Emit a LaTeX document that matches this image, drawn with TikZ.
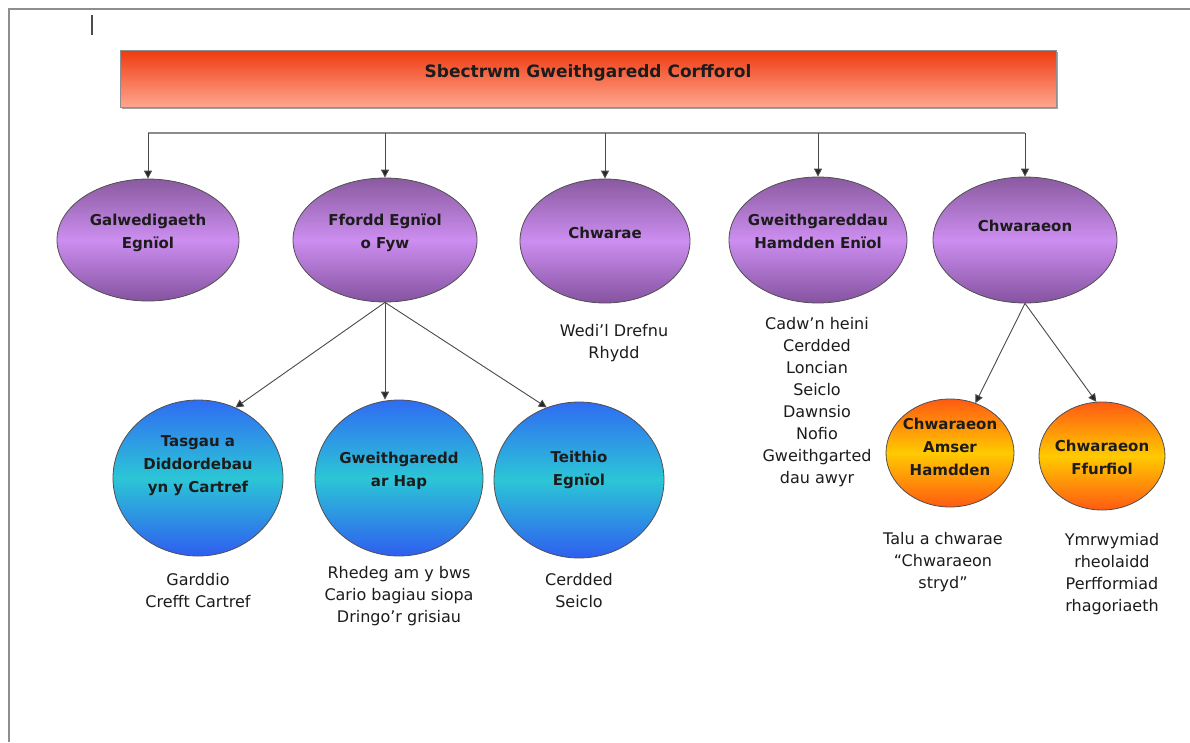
\documentclass[tikz,border=0pt]{standalone}
\usepackage{fontspec}
\setmainfont{DejaVu Sans}
\usetikzlibrary{shapes.geometric,arrows.meta,shadows}
\definecolor{purpTop}{HTML}{8A5AA0}
\definecolor{purpMid}{HTML}{CC8EF0}
\definecolor{purpBot}{HTML}{8552A0}
\definecolor{blueTop}{HTML}{2F6CF2}
\definecolor{blueMid}{HTML}{2CC6D6}
\definecolor{blueBot}{HTML}{2E5EF0}
\definecolor{orgTop}{HTML}{FF5A12}
\definecolor{orgMid}{HTML}{FFCA00}
\definecolor{orgBot}{HTML}{FF5A12}
\definecolor{barTop}{HTML}{EE3A10}
\definecolor{barBot}{HTML}{FFA68E}
\definecolor{edgec}{HTML}{505050}
\definecolor{linec}{HTML}{4A4A4A}
\definecolor{busc}{HTML}{8C8C8C}
\definecolor{framec}{HTML}{8E8E8E}
\definecolor{txt}{HTML}{1C1C1C}
\begin{document}
\begin{tikzpicture}[x=1pt,y=-1pt,
  purple/.style={ellipse, draw=edgec, line width=0.8pt, inner sep=0pt,
    top color=purpTop, bottom color=purpBot, middle color=purpMid},
  bluec/.style={ellipse, draw=edgec, line width=0.8pt, inner sep=0pt,
    top color=blueTop, bottom color=blueBot, middle color=blueMid},
  orangec/.style={ellipse, draw=edgec, line width=0.8pt, inner sep=0pt,
    top color=orgTop, bottom color=orgBot, middle color=orgMid},
  lbl/.style={font=\bfseries\fontsize{15}{23}\selectfont, align=center, text=txt, inner sep=0pt},
  lst/.style={font=\fontsize{16}{22}\selectfont, align=center, text=txt, inner sep=0pt},
  arr/.style={-{Triangle[length=8pt,width=8pt,fill=black!85]}, draw=linec, line width=0.9pt},
  bus/.style={draw=busc, line width=1.8pt}
]
\useasboundingbox (0,0) rectangle (1190,742);
\fill[white] (0,0) rectangle (1190,742);

% page frame and cursor
\coordinate (fTL) at (9,9);
\coordinate (fTR) at (1190,9);
\coordinate (fBL) at (9,742);
\draw[framec, line width=1.6pt] (fTR) -- (fTL) -- (fBL);
\coordinate (cur1) at (92,15);
\coordinate (cur2) at (92,35);
\draw[black!70, line width=1.2pt] (cur1) -- (cur2);

% title bar
\node[draw=framec, line width=0.8pt, minimum width=936pt, minimum height=57pt,
  top color=barTop, bottom color=barBot, inner sep=0pt,
  drop shadow={shadow xshift=1.5pt, shadow yshift=-2pt, fill=black!45, opacity=0.8}]
  (bar) at (588,78.5) {};
\node[font=\bfseries\fontsize{17}{20}\selectfont, text=txt, inner sep=0pt] (bartext) at (588,73) {Sbectrwm Gweithgaredd Corfforol};

% bus
\coordinate (b1) at (148,133);
\coordinate (b2) at (385,133);
\coordinate (b3) at (605,133);
\coordinate (b4) at (818,133);
\coordinate (b5) at (1025,133);
\draw[bus] (b1) -- (b5);

% first row ellipses
\node[purple, minimum width=182pt, minimum height=122pt] (e1) at (148,240) {};
\node[purple, minimum width=184pt, minimum height=124pt] (e2) at (385,240) {};
\node[purple, minimum width=170pt, minimum height=124pt] (e3) at (605,241) {};
\node[purple, minimum width=178pt, minimum height=126pt] (e4) at (818,240) {};
\node[purple, minimum width=184pt, minimum height=126pt] (e5) at (1025,240) {};
\node[lbl] (t1) at (148,233) {Galwedigaeth\\Egnïol};
\node[lbl] (t2) at (385,233) {Ffordd Egnïol\\o Fyw};
\node[lbl] (t3) at (605,233) {Chwarae};
\node[lbl] (t4) at (818,231) {Gweithgareddau\\Hamdden Enïol};
\node[lbl] (t5) at (1025,226) {Chwaraeon};

\draw[arr] (b1) -- (e1);
\draw[arr] (b2) -- (e2);
\draw[arr] (b3) -- (e3);
\draw[arr] (b4) -- (e4);
\draw[arr] (b5) -- (e5);

% second row (blue)
\node[bluec, minimum width=170pt, minimum height=156pt] (c1) at (198,478) {};
\node[bluec, minimum width=168pt, minimum height=156pt] (c2) at (399,478) {};
\node[bluec, minimum width=170pt, minimum height=156pt] (c3) at (579,480) {};
\node[lbl] (u1) at (198,466) {Tasgau a\\Diddordebau\\yn y Cartref};
\node[lbl] (u2) at (399,471) {Gweithgaredd\\ar Hap};
\node[lbl] (u3) at (579,470) {Teithio\\Egnïol};

\draw[arr] (e2.south) -- (c1.62);
\draw[arr] (e2.south) -- (e2.south |- c2.north);
\draw[arr] (e2.south) -- (c3.114);

% orange
\node[orangec, minimum width=128pt, minimum height=108pt] (o1) at (950,453) {};
\node[orangec, minimum width=126pt, minimum height=108pt] (o2) at (1102,456) {};
\node[lbl] (v1) at (950,447) {Chwaraeon\\Amser\\Hamdden};
\node[lbl] (v2) at (1102,457) {Chwaraeon\\Ffurfiol};

\draw[arr] (e5.south) -- (o1.63);
\draw[arr] (e5.south) -- (o2.96);

% lists
\node[lst] (l1) at (198,591) {Garddio\\Crefft Cartref};
\node[lst] (l2) at (399,596) {Rhedeg am y bws\\Cario bagiau siopa\\Dringo’r grisiau};
\node[lst] (l3) at (579,591) {Cerdded\\Seiclo};
\node[lst] (l4) at (614,343) {Wedi’l Drefnu\\Rhydd};
\node[lst] (l5) at (817,402) {Cadw’n heini\\Cerdded\\Loncian\\Seiclo\\Dawnsio\\Nofio\\Gweithgarted\\dau awyr};
\node[lst] (l6) at (943,562) {Talu a chwarae\\“Chwaraeon\\stryd”};
\node[lst] (l7) at (1112,574) {Ymrwymiad\\rheolaidd\\Perfformiad\\rhagoriaeth};
\end{tikzpicture}
\end{document}
